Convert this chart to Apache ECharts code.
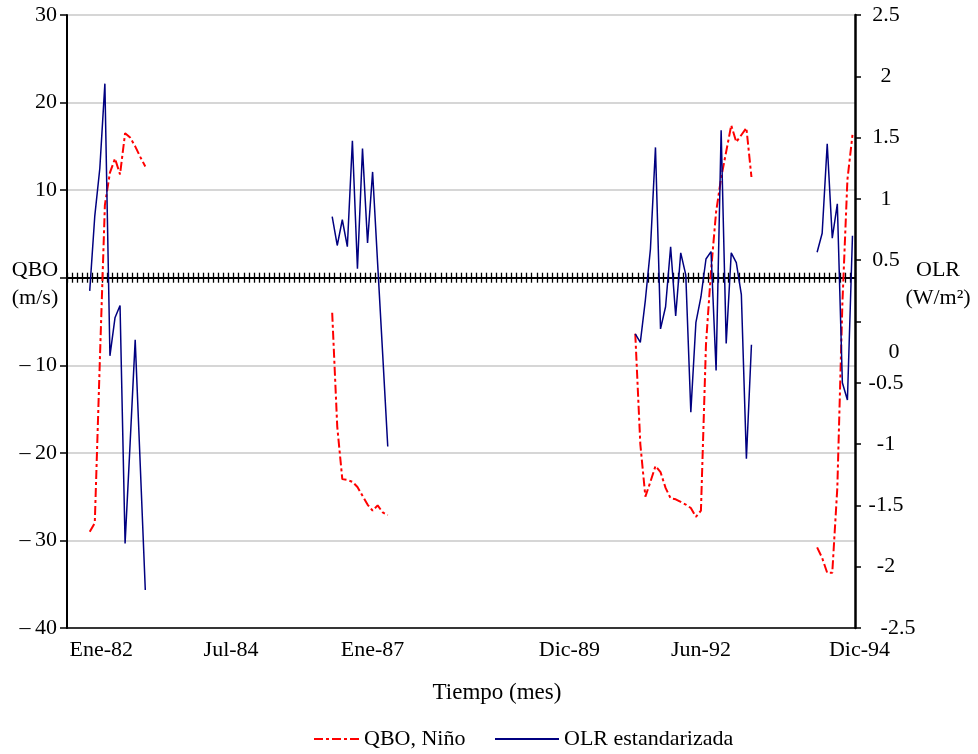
<!DOCTYPE html>
<html>
<head>
<meta charset="utf-8">
<script src="https://cdn.jsdelivr.net/npm/echarts@6/dist/echarts.min.js"></script>
<style>
  html, body { margin: 0; padding: 0; background: #fff; }
  #chart { width: 978px; height: 754px; }
</style>
</head>
<body>
<div id="chart"></div>
<script>
// meses de Ene-82 a Dic-94
const monthNames = ['Ene', 'Feb', 'Mar', 'Abr', 'May', 'Jun', 'Jul', 'Ago', 'Sep', 'Oct', 'Nov', 'Dic'];
const months = [];
for (let y = 82; y <= 94; y++) {
  monthNames.forEach(function (m) { months.push(m + '-' + y); });
}
const xLabels = ['Ene-82', 'Jul-84', 'Ene-87', 'Dic-89', 'Jun-92', 'Dic-94'];

// primer mes (indice) de cada tramo con datos
const segStart = [4, 52, 112, 148];

// QBO (m/s), eje izquierdo
const qbo1 = [-29.0, -28.0, -9.5, 8.3, 12.0, 13.6, 11.8, 16.5, 16.0, 15.0, 13.8, 12.7];
const qbo2 = [-4.0, -17.0, -23.0, -23.1, -23.3, -23.9, -24.9, -25.9, -26.6, -26.0, -26.8, -27.1];
const qbo3 = [-6.4, -19.0, -25.0, -23.3, -21.5, -22.2, -24.0, -25.2, -25.3, -25.6, -25.9, -26.3,
              -27.3, -26.6, -7.6, 0.8, 7.5, 11.4, 14.4, 17.4, 15.5, 16.3, 17.1, 11.5];
const qbo4 = [-30.8, -32.0, -33.7, -33.7, -24.0, -3.0, 11.2, 16.3];

// OLR estandarizada (W/m2), eje derecho
const olr1 = [0.25, 0.86, 1.25, 1.94, -0.28, 0.03, 0.13, -1.81, -0.99, -0.15, -1.17, -2.19];
const olr2 = [0.855, 0.62, 0.83, 0.61, 1.475, 0.43, 1.41, 0.64, 1.22, 0.47, -0.27, -1.02];
const olr3 = [-0.10, -0.17, 0.175, 0.59, 1.42, -0.06, 0.12, 0.61, 0.045, 0.56, 0.38, -0.74,
              -0.01, 0.20, 0.51, 0.57, -0.40, 1.56, -0.18, 0.56, 0.48, 0.22, -1.12, -0.19];
const olr4 = [0.565, 0.72, 1.45, 0.68, 0.96, -0.50, -0.64, 0.70];

function fill(segs) {
  const arr = months.map(function () { return null; });
  segs.forEach(function (s, k) {
    s.forEach(function (v, j) { arr[segStart[k] + j] = v; });
  });
  return arr;
}

const font = 'Liberation Serif';
const txt = { fontFamily: font, fontSize: 22, color: '#000' };

// nombre de eje en dos lineas, subido con un bloque vacio debajo
const nameRich = {
  t: Object.assign({}, txt, { lineHeight: 28 }),
  sp: { fontSize: 1, lineHeight: 75 }
};

// tics del eje en cero (cruzados)
const zeroAxis = function (pos) {
  return {
    type: 'category',
    data: months,
    position: pos,
    axisLine: { show: true, onZero: true, onZeroAxisIndex: 0, lineStyle: { color: '#000', width: 2 } },
    axisTick: { show: true, interval: 0, length: 5, lineStyle: { color: '#000', width: 1.3 } },
    axisLabel: { show: false },
    splitLine: { show: false }
  };
};

const legendBase = {
  top: 728,
  padding: 0,
  itemHeight: 14,
  itemStyle: { color: 'rgba(0,0,0,0)', borderWidth: 0 },
  textStyle: txt
};

let myChart = echarts.init(document.getElementById('chart'));

let option = {
  animation: false,
  textStyle: { fontFamily: font },
  grid: { left: 67, right: 123, top: 15, bottom: 126, outerBoundsMode: 'none', containLabel: false },
  legend: [
    Object.assign({ data: ['QBO, Niño'], left: 313, itemWidth: 45 }, legendBase),
    Object.assign({ data: ['OLR estandarizada'], left: 494, itemWidth: 64 }, legendBase)
  ],
  xAxis: [
    {
      type: 'category',
      data: months,
      position: 'bottom',
      axisLine: { onZero: false, lineStyle: { color: '#000', width: 1.5 } },
      axisTick: { show: false },
      axisLabel: Object.assign({}, txt, {
        interval: function (i, v) { return xLabels.indexOf(v) >= 0; },
        margin: 11,
        alignMinLabel: 'left',
        formatter: function (v) {
          if (v === 'Jul-84') return '{a|' + v + '}';
          if (v === 'Dic-89') return '{b|' + v + '}';
          if (v === 'Dic-94') return '{c|' + v + '}';
          return v;
        },
        rich: {
          a: Object.assign({}, txt, { padding: [0, 0, 0, 20] }),
          b: Object.assign({}, txt, { padding: [0, 0, 0, 40] }),
          c: Object.assign({}, txt, { padding: [0, 0, 0, 14] })
        }
      }),
      name: 'Tiempo (mes)',
      nameLocation: 'middle',
      nameGap: 53,
      nameTextStyle: Object.assign({}, txt, { fontSize: 23, padding: [0, 0, 0, 72] })
    },
    zeroAxis('bottom'),
    zeroAxis('top')
  ],
  yAxis: [
    {
      type: 'value',
      position: 'left',
      min: -40,
      max: 30,
      interval: 10,
      axisLine: { show: true, onZero: false, lineStyle: { color: '#000', width: 2 } },
      axisTick: { show: true, length: 7, lineStyle: { color: '#000', width: 1.5 } },
      axisLabel: Object.assign({}, txt, {
        margin: 10,
        formatter: function (v) {
          if (v === 0) return '';
          return v < 0 ? '\u2013\u2009' + Math.abs(v) : String(v);
        }
      }),
      splitLine: { show: true, lineStyle: { color: '#c8c8c8', width: 1.5 } },
      name: '{t|QBO}\n{t|(m/s)}\n{sp| }',
      nameLocation: 'middle',
      nameRotate: 0,
      nameGap: 32,
      nameMoveOverlap: false,
      nameTextStyle: Object.assign({}, txt, { align: 'center', rich: nameRich })
    },
    {
      type: 'value',
      position: 'right',
      min: -2.5,
      max: 2.5,
      interval: 0.5,
      axisLine: { show: true, onZero: false, lineStyle: { color: '#000', width: 2.5 } },
      axisTick: { show: true, length: 6, lineStyle: { color: '#000', width: 1.5 } },
      axisLabel: Object.assign({}, txt, {
        margin: 31,
        align: 'center',
        formatter: function (v) {
          if (v === 0) return '{z|0}';
          if (v === -2.5) return '{m|-2.5}';
          return String(v);
        },
        rich: {
          z: Object.assign({}, txt, { padding: [62, 0, 0, 16] }),
          m: Object.assign({}, txt, { padding: [0, 0, 0, 24] })
        }
      }),
      splitLine: { show: false },
      name: '{t|OLR}\n{t|(W/m²)}\n{sp| }',
      nameLocation: 'middle',
      nameRotate: 0,
      nameGap: 83,
      nameMoveOverlap: false,
      nameTextStyle: Object.assign({}, txt, { align: 'center', rich: nameRich })
    }
  ],
  series: [
    {
      name: 'QBO, Niño',
      type: 'line',
      xAxisIndex: 0,
      yAxisIndex: 0,
      data: fill([qbo1, qbo2, qbo3, qbo4]),
      symbol: 'none',
      itemStyle: { color: '#ff0000' },
      lineStyle: { color: '#ff0000', width: 2, type: [9, 3, 3, 3] }
    },
    {
      name: 'OLR estandarizada',
      type: 'line',
      xAxisIndex: 0,
      yAxisIndex: 1,
      data: fill([olr1, olr2, olr3, olr4]),
      symbol: 'none',
      itemStyle: { color: '#000080' },
      lineStyle: { color: '#000080', width: 1.5 }
    }
  ]
};

myChart.setOption(option);
</script>
</body>
</html>
